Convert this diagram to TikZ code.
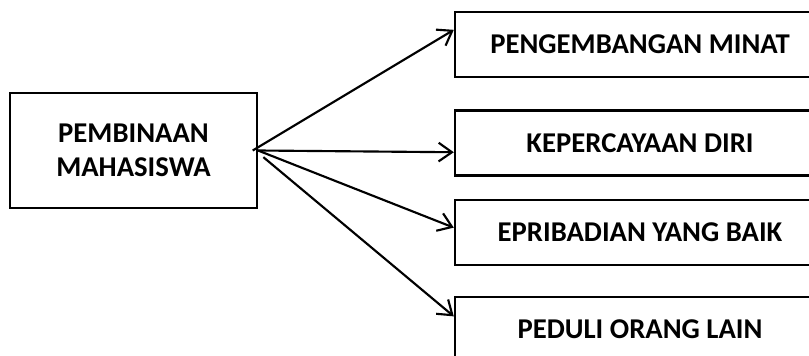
\documentclass[tikz,border=0pt]{standalone}
\usepackage{fontspec}
\setmainfont{Carlito}
\usetikzlibrary{positioning,arrows.meta}
\begin{document}
\begin{tikzpicture}[x=0.75pt,y=-0.75pt]
    \tikzset{kotak/.style={draw,line width=1.8pt,align=center,font=\fontsize{21.5}{25.5}\selectfont\bfseries},induk/.style={kotak,minimum
        width=185pt,minimum height=86pt},tujuan/.style={kotak,minimum
        width=277.5pt,minimum height=48.75pt},panah/.style={->,line
        width=1.6pt,>={Straight Barb[length=10pt,width=14pt]}}}
    \useasboundingbox (0,0) rectangle (809,356);
    \clip (0,0) rectangle (809,356);
    \node[induk] (pm) at (133.5,150.5) {PEMBINAAN\\MAHASISWA};
    \node[tujuan] (t1) at (640,44.5) {PENGEMBANGAN MINAT};
    \node[tujuan] (t2) [below=23.25pt of t1] {KEPERCAYAAN DIRI};
    \node[tujuan] (t3) [below=16.5pt of t2] {EPRIBADIAN YANG BAIK};
    \node[tujuan] (t4) [below=22.5pt of t3] {PEDULI ORANG LAIN};

    \draw[panah] ([xshift=-4pt]pm.east) -- ([yshift=11pt]t1.west);
    \draw[panah] (pm.east) -- ([yshift=-7pt]t2.west);
    \draw[panah] (pm.east) -- ([yshift=3.5pt]t3.west);
    \draw[panah] ([shift={(4pt,-5pt)}]pm.east) -- ([yshift=10pt]t4.west);

  \end{tikzpicture}
\end{document}
